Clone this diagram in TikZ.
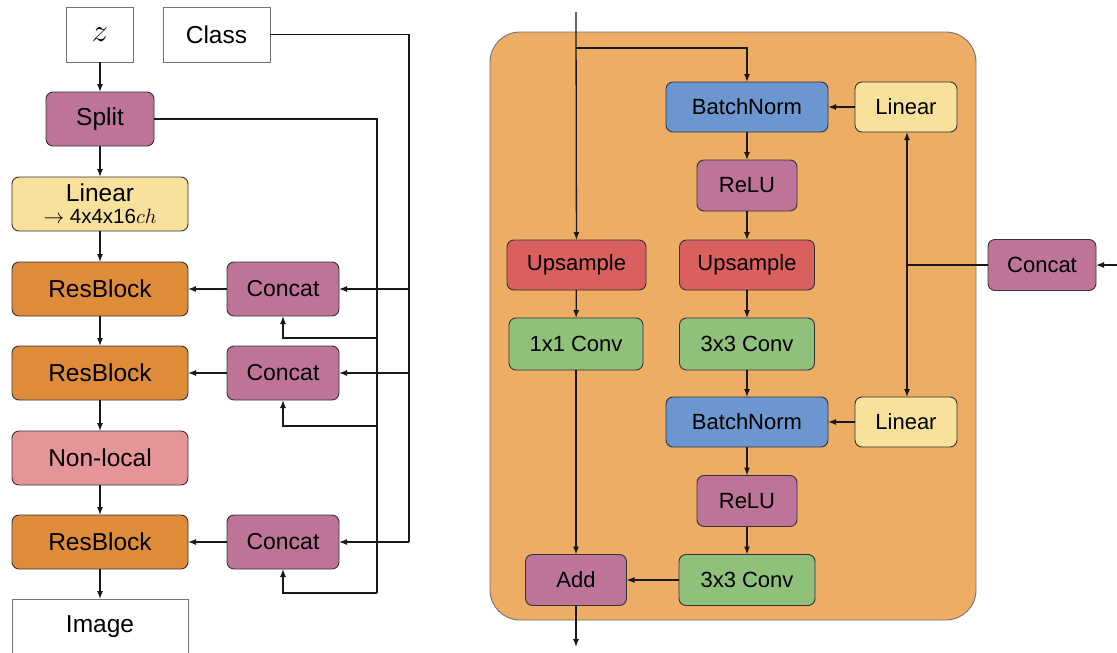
\documentclass[tikz,border=0pt]{standalone}
\usepackage{fontspec}
\setmainfont{Liberation Sans}
\usetikzlibrary{arrows.meta}
\definecolor{cpurple}{RGB}{189,116,152}
\definecolor{corange}{RGB}{222,140,58}
\definecolor{cpink}{RGB}{229,149,151}
\definecolor{cyellow}{RGB}{248,225,155}
\definecolor{cpanel}{RGB}{238,173,101}
\definecolor{cblue}{RGB}{108,150,207}
\definecolor{cred}{RGB}{217,96,94}
\definecolor{cgreen}{RGB}{143,193,123}
\tikzset{
  box/.style={draw=black!80, line width=0.9pt, rounded corners=7pt, inner sep=0pt, outer sep=0pt},
  lbox/.style={box, minimum width=176pt, minimum height=54pt, font=\fontsize{24.5}{26}\selectfont},
  wbox/.style={draw=black!55, line width=0.9pt, fill=white, inner sep=0pt, outer sep=0pt, minimum height=55pt, font=\fontsize{24.5}{26}\selectfont},
  rbox/.style={box, minimum height=50pt, font=\fontsize{22}{24}\selectfont},
  conn/.style={line width=1.3pt, draw=black!90},
  arr/.style={conn, -{Latex[length=8pt,width=6pt]}},
}
\begin{document}
\begin{tikzpicture}[x=1pt,y=-1pt]
\useasboundingbox (0,0) rectangle (1117,653);
% ---------- left panel ----------
\node[wbox, minimum width=67pt] (z) at (100,34.5) {\normalsize\scalebox{3.2}{$z$}};
\node[wbox, minimum width=107pt] (class) at (216.5,34.5) {Class};
\node[box, fill=cpurple, minimum width=108pt, minimum height=54pt, font=\fontsize{24.5}{26}\selectfont] (split) at (100,119) {Split};
\node[lbox, fill=cyellow, align=center] (lin) at (100,204) {Linear\\[-4pt]{\fontsize{20.5}{22}\selectfont$\rightarrow$ 4x4x16$ch$}};
\node[lbox, fill=corange] (rb1) at (100,289) {ResBlock};
\node[lbox, fill=corange] (rb2) at (100,373) {ResBlock};
\node[lbox, fill=cpink] (nl) at (100,458) {Non-local};
\node[lbox, fill=corange] (rb3) at (100,542) {ResBlock};
\node[wbox, minimum width=176pt, minimum height=56pt] (img) at (100,627) {Image};
\node[box, fill=cpurple, minimum width=112pt, minimum height=54pt, font=\fontsize{23}{25}\selectfont] (c1) at (283,289) {Concat};
\node[box, fill=cpurple, minimum width=112pt, minimum height=54pt, font=\fontsize{23}{25}\selectfont] (c2) at (283,373) {Concat};
\node[box, fill=cpurple, minimum width=112pt, minimum height=54pt, font=\fontsize{23}{25}\selectfont] (c3) at (283,542) {Concat};
\draw[arr] (z) -- (split);
\draw[arr] (split) -- (lin);
\draw[arr] (lin) -- (rb1);
\draw[arr] (rb1) -- (rb2);
\draw[arr] (rb2) -- (nl);
\draw[arr] (nl) -- (rb3);
\draw[arr] (rb3) -- (img);
\draw[arr] (c1) -- (rb1);
\draw[arr] (c2) -- (rb2);
\draw[arr] (c3) -- (rb3);
% class bus
\coordinate (cx1) at (409,289);
\coordinate (cx2) at (409,373);
\coordinate (cx3) at (409,542);
\draw[conn] (class.east) -| (cx3);
\draw[arr] (cx1) -- (c1.east);
\draw[arr] (cx2) -- (c2.east);
\draw[arr] (cx3) -- (c3.east);
% split bus
\coordinate (sx1) at (377,338);
\coordinate (sx2) at (377,426);
\coordinate (sx3) at (377,593);
\draw[conn] (split.east) -| (sx3);
\draw[arr] (sx1) -| (c1.south);
\draw[arr] (sx2) -| (c2.south);
\draw[arr] (sx3) -| (c3.south);
% ---------- right panel ----------
\node[draw=black!55, line width=0.9pt, fill=cpanel, rounded corners=30pt, minimum width=486pt, minimum height=588pt, inner sep=0pt] (panel) at (733,326) {};
\node[rbox, fill=cblue, minimum width=162pt] (bn1) at (747,107) {BatchNorm};
\node[rbox, fill=cyellow, minimum width=102pt] (l1) at (906,107) {Linear};
\node[rbox, fill=cpurple, minimum width=100pt, minimum height=51pt] (relu1) at (747,185.5) {ReLU};
\node[rbox, fill=cred, minimum width=139pt] (upl) at (576.5,265) {Upsample};
\node[rbox, fill=cred, minimum width=135pt] (upr) at (747,265) {Upsample};
\node[rbox, fill=cgreen, minimum width=134pt, minimum height=52pt] (c11) at (576,344) {1x1 Conv};
\node[rbox, fill=cgreen, minimum width=135pt, minimum height=52pt] (c33a) at (747,344) {3x3 Conv};
\node[rbox, fill=cblue, minimum width=162pt] (bn2) at (747,422) {BatchNorm};
\node[rbox, fill=cyellow, minimum width=102pt] (l2) at (906,422) {Linear};
\node[rbox, fill=cpurple, minimum width=100pt, minimum height=51pt] (relu2) at (747,501) {ReLU};
\node[rbox, fill=cpurple, minimum width=101pt, minimum height=51pt] (add) at (576,580) {Add};
\node[rbox, fill=cgreen, minimum width=136pt, minimum height=51pt] (c33b) at (747,580) {3x3 Conv};
\node[rbox, fill=cpurple, minimum width=108pt, minimum height=51pt] (cr) at (1042,265) {Concat};
\coordinate (in) at (576,12);
\coordinate (br) at (576,48);
\coordinate (out) at (576,647);
\coordinate (rin) at (1117,265);
\coordinate (j) at (907,265);
\draw[arr] (in) -- (upl);
\draw[arr] (br) -| (bn1.north);
\draw[arr] (bn1) -- (relu1);
\draw[arr] (relu1) -- (upr);
\draw[arr] (upr) -- (c33a);
\draw[arr] (c33a) -- (bn2);
\draw[arr] (bn2) -- (relu2);
\draw[arr] (relu2) -- (c33b);
\draw[arr] (c33b) -- (add);
\draw[arr] (upl) -- (c11);
\draw[arr] (c11) -- (add);
\draw[arr] (add) -- (out);
\draw[arr] (l1) -- (bn1);
\draw[arr] (l2) -- (bn2);
\draw[arr] (rin) -- (cr.east);
\draw[conn] (cr.west) -- (j);
\draw[arr] (j) -- (l1.south -| j);
\draw[arr] (j) -- (l2.north -| j);
\end{tikzpicture}
\end{document}
